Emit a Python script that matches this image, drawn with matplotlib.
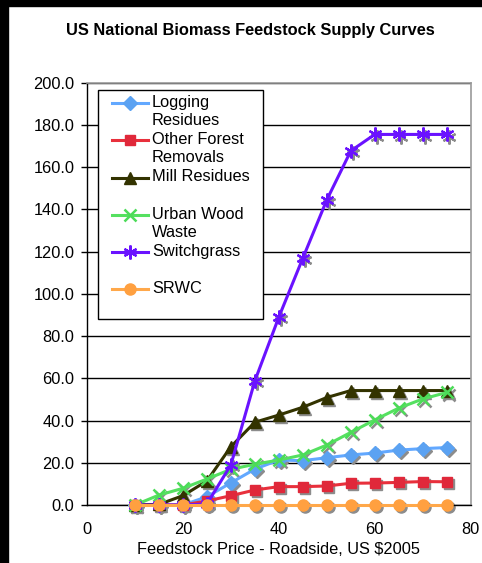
import matplotlib
matplotlib.use("Agg")
import matplotlib.pyplot as plt
from matplotlib.patches import Rectangle
from matplotlib.legend_handler import HandlerLine2D
from matplotlib.transforms import ScaledTranslation

plt.rcParams['font.family'] = ['Liberation Sans', 'DejaVu Sans']

# price points, US $2005
price = [10, 15, 20, 25, 30, 35, 40, 45, 50, 55, 60, 65, 70, 75]

logging = [0, 0, 0, 3.9, 10.5, 17.0, 21.3, 21.0, 22.4, 23.7, 24.6, 26.0, 26.7, 27.2]
other_forest = [0, 0, 0, 1.9, 4.4, 7.1, 8.7, 8.7, 9.0, 10.3, 10.4, 10.7, 11.1, 11.0]
mill = [0, 0.3, 4.4, 11.4, 27.6, 39.2, 42.6, 46.3, 50.9, 54.2, 54.2, 54.2, 54.2, 54.2]
urban = [0, 4.7, 7.9, 12.3, 16.9, 19.3, 21.3, 23.7, 28.4, 34.4, 40.3, 45.9, 50.2, 53.3]
switchgrass = [0, 0, 0, 0.5, 19.0, 58.8, 89.0, 116.9, 144.5, 167.7, 175.5, 175.5, 175.5, 175.5]
srwc = [0, 0, 0, 0, 0, 0, 0, 0, 0, 0, 0, 0, 0, 0]

labels = ["Logging\nResidues", "Other Forest\nRemovals", "Mill Residues\n ",
          "Urban Wood\nWaste", "Switchgrass\n ", "SRWC\n "]

W, H = 482, 563
FS = 11.8


class FirstLineHandler(HandlerLine2D):
    # put the legend sample next to the first line of a two-line label
    def create_artists(self, legend, orig_handle, xdescent, ydescent,
                       width, height, fontsize, trans):
        gap = 0.55 * fontsize
        lift = 1.05 * fontsize
        return super().create_artists(legend, orig_handle, xdescent - gap,
                                      ydescent - lift, width - gap, height,
                                      fontsize, trans)


fig = plt.figure(figsize=(W / 100, H / 100), dpi=100)
fig.patch.set_facecolor("white")
fig.patches.append(Rectangle((0, 1 - 6 / H), 1, 6 / H, transform=fig.transFigure,
                             color="black", zorder=0))
fig.patches.append(Rectangle((0, 0), 8 / W, 1, transform=fig.transFigure,
                             color="black", zorder=0))

ax = fig.add_axes([87 / W, 1 - 505 / H, (470.7 - 87) / W, (505 - 82.7) / H])

series = [
    (logging, "#62A8FF", "#5BA2F2", "D", 7.5, 1),
    (other_forest, "#E8303C", "#E0283A", "s", 7.5, 1),
    (mill, "#333300", "#333300", "^", 8, 1),
    (urban, "#55E060", "#4CDC58", "x", 8, 1.8),
    (switchgrass, "#6A12FF", "#6A12FF", (6, 2, 0), 10, 1.6),
    (srwc, "#FFA84A", "#FFA040", "o", 8, 1),
]

shadow = ax.transData + ScaledTranslation(1.5 / 72, -1.5 / 72, fig.dpi_scale_trans)
handles = []
for vals, lc, mc, mk, ms, mew in series:
    ax.plot(price, vals, linestyle="none", marker=mk, ms=ms, mew=mew,
            color="#8C8C8C", mfc="#8C8C8C", mec="#8C8C8C",
            transform=shadow, zorder=2, clip_on=False)
    h, = ax.plot(price, vals, color=lc, lw=2.2, marker=mk, ms=ms, mew=mew,
                 mfc=mc, mec=mc, zorder=3, clip_on=False)
    handles.append(h)

ax.set_xlim(0, 80)
ax.set_ylim(0, 200)
ax.set_xticks([0, 20, 40, 60, 80])
ax.set_xticks([0, 80], minor=True)
ax.set_yticks(range(0, 201, 20))
ax.set_yticklabels([f"{v:.1f}" for v in range(0, 201, 20)])
ax.tick_params(axis="x", which="major", length=0, pad=12, labelsize=FS)
ax.tick_params(axis="x", which="minor", length=4, width=1, direction="out")
ax.tick_params(axis="y", length=4, width=1, direction="out", pad=5, labelsize=FS)
ax.grid(axis="y", color="black", lw=1)
ax.set_axisbelow(True)
for s in ["top", "right"]:
    ax.spines[s].set_color("#9A9A9A")
    ax.spines[s].set_linewidth(1.2)
ax.spines["left"].set_linewidth(1)
ax.spines["bottom"].set_linewidth(1)

ax.set_xlabel(r"Feedstock Price - Roadside, US \$2005", fontsize=FS, labelpad=4)

leg = ax.legend(handles, labels, loc="upper left",
                bbox_to_anchor=(0.0287, 0.0, 0.43, 0.9827), mode="expand",
                borderaxespad=0, fontsize=FS, frameon=True, fancybox=False,
                edgecolor="black", framealpha=1, handlelength=2.75,
                handletextpad=0.25, labelspacing=0.25, borderpad=0.3,
                handler_map={h: FirstLineHandler() for h in handles})
leg.get_frame().set_linewidth(1)
for t in leg.get_texts():
    t.set_linespacing(1.26)

fig.text(250 / W, 1 - 31 / H, "US National Biomass Feedstock Supply Curves",
         ha="center", va="center", fontsize=FS, fontweight="bold")

fig.savefig("out.png", dpi=100)
